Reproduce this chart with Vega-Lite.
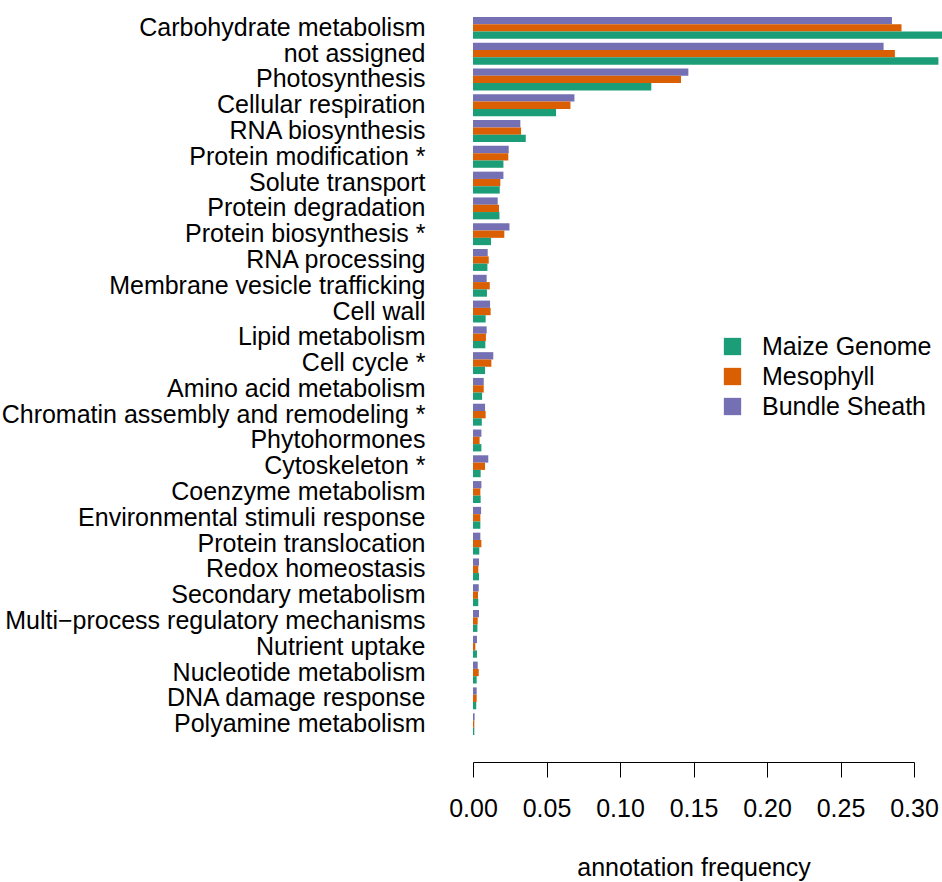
{
  "$schema": "https://vega.github.io/schema/vega-lite/v6.json",
  "width": 441,
  "height": 722,
  "autosize": {"type": "none"},
  "padding": {"left": 473, "top": 15, "right": 28, "bottom": 145},
  "background": "white",
  "config": {
    "view": {"stroke": null},
    "font": "Liberation Sans"
  },
  "data": {
    "values": [
      {"category": "Carbohydrate metabolism", "group": "Bundle Sheath", "value": 0.285},
      {"category": "Carbohydrate metabolism", "group": "Mesophyll", "value": 0.2915},
      {"category": "Carbohydrate metabolism", "group": "Maize Genome", "value": 0.32},
      {"category": "not assigned", "group": "Bundle Sheath", "value": 0.2793},
      {"category": "not assigned", "group": "Mesophyll", "value": 0.287},
      {"category": "not assigned", "group": "Maize Genome", "value": 0.3166},
      {"category": "Photosynthesis", "group": "Bundle Sheath", "value": 0.1465},
      {"category": "Photosynthesis", "group": "Mesophyll", "value": 0.1415},
      {"category": "Photosynthesis", "group": "Maize Genome", "value": 0.1213},
      {"category": "Cellular respiration", "group": "Bundle Sheath", "value": 0.069},
      {"category": "Cellular respiration", "group": "Mesophyll", "value": 0.0663},
      {"category": "Cellular respiration", "group": "Maize Genome", "value": 0.0565},
      {"category": "RNA biosynthesis", "group": "Bundle Sheath", "value": 0.0322},
      {"category": "RNA biosynthesis", "group": "Mesophyll", "value": 0.0327},
      {"category": "RNA biosynthesis", "group": "Maize Genome", "value": 0.0359},
      {"category": "Protein modification *", "group": "Bundle Sheath", "value": 0.0243},
      {"category": "Protein modification *", "group": "Mesophyll", "value": 0.024},
      {"category": "Protein modification *", "group": "Maize Genome", "value": 0.0207},
      {"category": "Solute transport", "group": "Bundle Sheath", "value": 0.0207},
      {"category": "Solute transport", "group": "Mesophyll", "value": 0.0186},
      {"category": "Solute transport", "group": "Maize Genome", "value": 0.0182},
      {"category": "Protein degradation", "group": "Bundle Sheath", "value": 0.0168},
      {"category": "Protein degradation", "group": "Mesophyll", "value": 0.0177},
      {"category": "Protein degradation", "group": "Maize Genome", "value": 0.018},
      {"category": "Protein biosynthesis *", "group": "Bundle Sheath", "value": 0.0248},
      {"category": "Protein biosynthesis *", "group": "Mesophyll", "value": 0.0213},
      {"category": "Protein biosynthesis *", "group": "Maize Genome", "value": 0.0123},
      {"category": "RNA processing", "group": "Bundle Sheath", "value": 0.01},
      {"category": "RNA processing", "group": "Mesophyll", "value": 0.0107},
      {"category": "RNA processing", "group": "Maize Genome", "value": 0.0098},
      {"category": "Membrane vesicle trafficking", "group": "Bundle Sheath", "value": 0.0093},
      {"category": "Membrane vesicle trafficking", "group": "Mesophyll", "value": 0.0114},
      {"category": "Membrane vesicle trafficking", "group": "Maize Genome", "value": 0.0095},
      {"category": "Cell wall", "group": "Bundle Sheath", "value": 0.0116},
      {"category": "Cell wall", "group": "Mesophyll", "value": 0.012},
      {"category": "Cell wall", "group": "Maize Genome", "value": 0.0086},
      {"category": "Lipid metabolism", "group": "Bundle Sheath", "value": 0.0093},
      {"category": "Lipid metabolism", "group": "Mesophyll", "value": 0.0088},
      {"category": "Lipid metabolism", "group": "Maize Genome", "value": 0.0084},
      {"category": "Cell cycle *", "group": "Bundle Sheath", "value": 0.0138},
      {"category": "Cell cycle *", "group": "Mesophyll", "value": 0.0125},
      {"category": "Cell cycle *", "group": "Maize Genome", "value": 0.0082},
      {"category": "Amino acid metabolism", "group": "Bundle Sheath", "value": 0.0073},
      {"category": "Amino acid metabolism", "group": "Mesophyll", "value": 0.0073},
      {"category": "Amino acid metabolism", "group": "Maize Genome", "value": 0.0062},
      {"category": "Chromatin assembly and remodeling *", "group": "Bundle Sheath", "value": 0.0082},
      {"category": "Chromatin assembly and remodeling *", "group": "Mesophyll", "value": 0.0086},
      {"category": "Chromatin assembly and remodeling *", "group": "Maize Genome", "value": 0.006},
      {"category": "Phytohormones", "group": "Bundle Sheath", "value": 0.0057},
      {"category": "Phytohormones", "group": "Mesophyll", "value": 0.0045},
      {"category": "Phytohormones", "group": "Maize Genome", "value": 0.0057},
      {"category": "Cytoskeleton *", "group": "Bundle Sheath", "value": 0.0104},
      {"category": "Cytoskeleton *", "group": "Mesophyll", "value": 0.0082},
      {"category": "Cytoskeleton *", "group": "Maize Genome", "value": 0.0052},
      {"category": "Coenzyme metabolism", "group": "Bundle Sheath", "value": 0.0057},
      {"category": "Coenzyme metabolism", "group": "Mesophyll", "value": 0.005},
      {"category": "Coenzyme metabolism", "group": "Maize Genome", "value": 0.0052},
      {"category": "Environmental stimuli response", "group": "Bundle Sheath", "value": 0.0055},
      {"category": "Environmental stimuli response", "group": "Mesophyll", "value": 0.005},
      {"category": "Environmental stimuli response", "group": "Maize Genome", "value": 0.005},
      {"category": "Protein translocation", "group": "Bundle Sheath", "value": 0.005},
      {"category": "Protein translocation", "group": "Mesophyll", "value": 0.0057},
      {"category": "Protein translocation", "group": "Maize Genome", "value": 0.0043},
      {"category": "Redox homeostasis", "group": "Bundle Sheath", "value": 0.0041},
      {"category": "Redox homeostasis", "group": "Mesophyll", "value": 0.0036},
      {"category": "Redox homeostasis", "group": "Maize Genome", "value": 0.0041},
      {"category": "Secondary metabolism", "group": "Bundle Sheath", "value": 0.0039},
      {"category": "Secondary metabolism", "group": "Mesophyll", "value": 0.0034},
      {"category": "Secondary metabolism", "group": "Maize Genome", "value": 0.0036},
      {"category": "Multi−process regulatory mechanisms", "group": "Bundle Sheath", "value": 0.0041},
      {"category": "Multi−process regulatory mechanisms", "group": "Mesophyll", "value": 0.0032},
      {"category": "Multi−process regulatory mechanisms", "group": "Maize Genome", "value": 0.003},
      {"category": "Nutrient uptake", "group": "Bundle Sheath", "value": 0.0027},
      {"category": "Nutrient uptake", "group": "Mesophyll", "value": 0.0016},
      {"category": "Nutrient uptake", "group": "Maize Genome", "value": 0.0027},
      {"category": "Nucleotide metabolism", "group": "Bundle Sheath", "value": 0.0032},
      {"category": "Nucleotide metabolism", "group": "Mesophyll", "value": 0.0039},
      {"category": "Nucleotide metabolism", "group": "Maize Genome", "value": 0.0025},
      {"category": "DNA damage response", "group": "Bundle Sheath", "value": 0.0025},
      {"category": "DNA damage response", "group": "Mesophyll", "value": 0.0025},
      {"category": "DNA damage response", "group": "Maize Genome", "value": 0.0022},
      {"category": "Polyamine metabolism", "group": "Bundle Sheath", "value": 0.0011},
      {"category": "Polyamine metabolism", "group": "Mesophyll", "value": 0.0009},
      {"category": "Polyamine metabolism", "group": "Maize Genome", "value": 0.0009}
    ]
  },
  "mark": {"type": "bar"},
  "encoding": {
    "y": {
      "field": "category",
      "type": "nominal",
      "sort": null,
      "scale": {"paddingInner": 0.15, "paddingOuter": 0.075},
      "axis": {
        "title": null,
        "domain": false,
        "ticks": false,
        "grid": false,
        "labelFontSize": 25,
        "labelPadding": 48,
        "labelColor": "#000000",
        "labelLimit": 700
      }
    },
    "yOffset": {
      "field": "group",
      "type": "nominal",
      "scale": {"domain": ["Bundle Sheath", "Mesophyll", "Maize Genome"], "paddingInner": 0, "paddingOuter": 0}
    },
    "x": {
      "field": "value",
      "type": "quantitative",
      "scale": {"domain": [0, 0.3], "nice": false, "zero": true},
      "axis": {
        "title": "annotation frequency",
        "values": [0, 0.05, 0.1, 0.15, 0.2, 0.25, 0.3],
        "format": ".2f",
        "offset": 25,
        "tickSize": 15,
        "grid": false,
        "labelFontSize": 25,
        "labelPadding": 19,
        "labelFlush": false,
        "labelOverlap": false,
        "titleFontSize": 25,
        "titleFontWeight": "normal",
        "titlePadding": 34,
        "domainColor": "#000000",
        "tickColor": "#000000",
        "labelColor": "#000000",
        "titleColor": "#000000"
      }
    },
    "color": {
      "field": "group",
      "type": "nominal",
      "scale": {
        "domain": ["Maize Genome", "Mesophyll", "Bundle Sheath"],
        "range": ["#1b9e77", "#d95f02", "#7570b3"]
      },
      "legend": {
        "orient": "none",
        "legendX": 247,
        "legendY": 319,
        "title": null,
        "padding": 0,
        "symbolType": "square",
        "symbolSize": 300,
        "symbolStrokeWidth": 0,
        "labelFontSize": 25,
        "labelOffset": 17,
        "labelLimit": 400,
        "labelColor": "#000000",
        "rowPadding": 4
      }
    }
  }
}
